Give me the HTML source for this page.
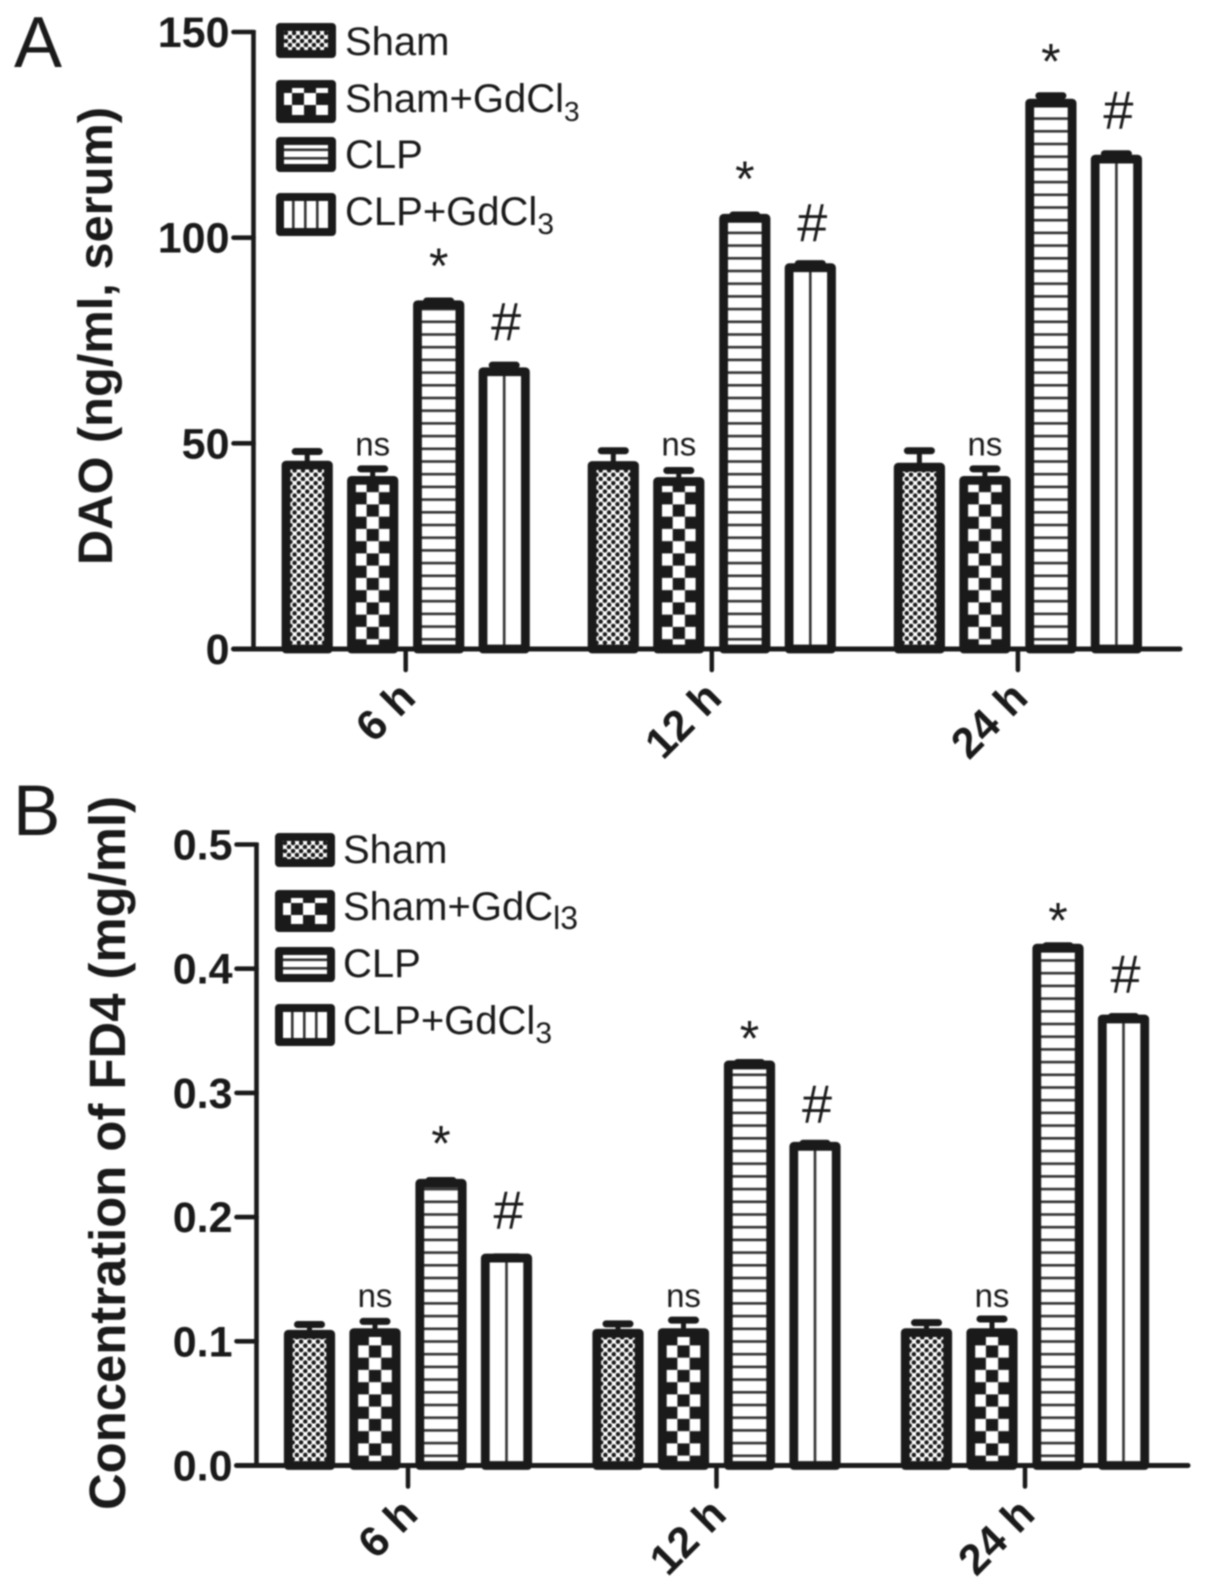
<!DOCTYPE html>
<html lang="en">
<head>
<meta charset="utf-8">
<title>DAO and FD4 bar charts</title>
<style>
html,body{margin:0;padding:0;background:#fff;}
svg{display:block;filter:blur(0.8px);}
text{font-family:"Liberation Sans",Arial,sans-serif;fill:#1a1a1a;}
</style>
</head>
<body>
<svg id="figure" xmlns="http://www.w3.org/2000/svg" width="1205" height="1593" viewBox="0 0 1205 1593">
<defs id="defs"></defs>
<rect x="0" y="0" width="1205" height="1593" fill="#ffffff"/>
<text x="14" y="67" font-size="72">A</text>
<text x="13" y="835" font-size="71">B</text>
<text transform="translate(112,565) rotate(-90)" font-size="48" font-weight="bold" textLength="458" lengthAdjust="spacingAndGlyphs">DAO (ng/ml, serum)</text>
<text transform="translate(125,1510) rotate(-90)" font-size="51" font-weight="bold" textLength="714" lengthAdjust="spacingAndGlyphs">Concentration of FD4 (mg/ml)</text>
<g font-size="40">
<text x="345" y="55">Sham</text>
<text x="345" y="112">Sham+GdCl<tspan dy="9" font-size="28">3</tspan></text>
<text x="345" y="168">CLP</text>
<text x="345" y="225">CLP+GdCl<tspan dy="9" font-size="30">3</tspan></text>
</g>
<g font-size="40">
<text x="343" y="863">Sham</text>
<text x="343" y="920">Sham+GdC<tspan dy="9" font-size="32">l3</tspan></text>
<text x="343" y="977">CLP</text>
<text x="343" y="1034">CLP+GdCl<tspan dy="9" font-size="30">3</tspan></text>
</g>
</svg>
<script>
// Shared categories
const categories = ['6 h', '12 h', '24 h'];
const seriesKeys = ['sham', 'sham-gdcl3', 'clp', 'clp-gdcl3'];

// Panel A: DAO (ng/ml, serum)
const aTicks = [0, 50, 100, 150];
const aTickLabels = ['0', '50', '100', '150'];
const aSham = [44.7, 44.6, 44.2];
const aShamUpper = [48, 48.2, 48.2];
const aShamGd = [41, 40.7, 41];
const aShamGdUpper = [43.8, 43.4, 43.8];
const aClp = [83.7, 104.7, 132.7];
const aClpUpper = [84.6, 105.5, 134.5];
const aClpGd = [67.4, 92.7, 119.1];
const aClpGdUpper = [69, 93.7, 120.4];
const aStar = [96, 117.2, 145.7];
const aHash = [79.7, 103.8, 131.1];
const aNs = [50, 50, 50];

// Panel B: Concentration of FD4 (mg/ml)
const bTicks = [0, 0.1, 0.2, 0.3, 0.4, 0.5];
const bTickLabels = ['0.0', '0.1', '0.2', '0.3', '0.4', '0.5'];
const bSham = [0.1057, 0.1065, 0.107];
const bShamUpper = [0.1135, 0.1140, 0.115];
const bShamGd = [0.107, 0.107, 0.107];
const bShamGdUpper = [0.116, 0.117, 0.118];
const bClp = [0.2272, 0.3225, 0.4165];
const bClpUpper = [0.2295, 0.3245, 0.4185];
const bClpGd = [0.167, 0.257, 0.3595];
const bClpGdUpper = [0.168, 0.2595, 0.3615];
const bStar = [0.2689, 0.3535, 0.4485];
const bHash = [0.206, 0.2915, 0.396];
const bNs = [0.1372, 0.1372, 0.1372];

const NS = 'http://www.w3.org/2000/svg';
const svg = document.getElementById('figure');
const defs = document.getElementById('defs');
const INK = '#1a1a1a';
let patternCount = 0;

function make(tag, attrs, parent) {
  const node = document.createElementNS(NS, tag);
  for (const k in attrs) node.setAttribute(k, attrs[k]);
  (parent || svg).appendChild(node);
  return node;
}

function makePattern(type, ox, oy, pitch) {
  const id = 'pat' + (patternCount++);
  let w = pitch, h = pitch;
  const p = make('pattern', {id: id, patternUnits: 'userSpaceOnUse', width: w, height: h,
    patternTransform: 'translate(' + ox + ',' + oy + ')'}, defs);
  make('rect', {x: 0, y: 0, width: w, height: h, fill: '#fff'}, p);
  if (type === 'sham') {
    make('circle', {cx: pitch / 4, cy: pitch / 4, r: 2.3, fill: INK}, p);
    make('circle', {cx: 3 * pitch / 4, cy: 3 * pitch / 4, r: 2.3, fill: INK}, p);
  } else if (type === 'sham-gdcl3') {
    make('rect', {x: 0, y: 0, width: pitch / 2, height: pitch / 2, fill: INK}, p);
    make('rect', {x: pitch / 2, y: pitch / 2, width: pitch / 2, height: pitch / 2, fill: INK}, p);
  } else if (type === 'clp') {
    make('rect', {x: 0, y: 0, width: pitch, height: 2.6, fill: '#333'}, p);
  } else {
    make('rect', {x: 0, y: 0, width: 2.6, height: pitch, fill: '#333'}, p);
  }
  return id;
}

function patternFor(type, cx, axisY) {
  if (type === 'sham') return makePattern(type, cx - 2.1, axisY, 8.4);
  if (type === 'sham-gdcl3') return makePattern(type, cx - 6.1, axisY - 22.1, 24.5);
  if (type === 'clp') return makePattern(type, cx, axisY - 11, 12.7);
  return makePattern(type, cx - 1.3, axisY, 60);
}

function drawPanel(cfg) {
  const yOf = function (v) { return cfg.axisY - (v - cfg.yMin) / (cfg.yMax - cfg.yMin) * (cfg.axisY - cfg.topY); };
  const group = make('g', {});
  
  

  const offsets = [-98.5, -33, 33, 98.5];
  const halfBar = 21.2;

  cfg.categories.forEach(function (cat, ci) {
    const tickX = cfg.tickXs(ci);
    cfg.series.forEach(function (s, si) {
      const cx = tickX + offsets[si];
      const y = yOf(s.values[ci]);
      const yUp = yOf(s.upper[ci]);

      const stem = make('line', {x1: cx, x2: cx, y1: y, y2: yUp, stroke: INK, 'stroke-width': 5}, group);
      
      

      const cap = make('line', {x1: cx - 12, x2: cx + 12, y1: yUp, y2: yUp, stroke: INK, 'stroke-width': 7, 'stroke-linecap': 'round'}, group);
      
      

      const pid = patternFor(s.key, cx, cfg.axisY);
      const bar = make('rect', {x: cx - halfBar, y: y, width: halfBar * 2, height: cfg.axisY - y,
        fill: 'url(#' + pid + ')', stroke: INK, 'stroke-width': 8.8, 'stroke-linejoin': 'round'}, group);
      
      
    });

    const ns = make('text', {x: tickX - 33, y: yOf(cfg.ns[ci]) + 12, 'font-size': 33, 'text-anchor': 'middle'}, group);
    ns.textContent = 'ns';
    
    

    const star = make('text', {x: tickX + 33, y: yOf(cfg.star[ci]) + 29, 'font-size': 50, 'text-anchor': 'middle'}, group);
    star.textContent = '*';
    
    

    const hash = make('text', {x: tickX + 100.5, y: yOf(cfg.hash[ci]) + 19, 'font-size': 54, 'text-anchor': 'middle'}, group);
    hash.textContent = '#';
    
    

    const tick = make('line', {x1: tickX, x2: tickX, y1: cfg.axisY, y2: cfg.axisY + 21, stroke: INK, 'stroke-width': 4.5, 'stroke-linecap': 'round'}, group);
    
    

    const lx = tickX + 12;
    const ly = cfg.axisY + 51;
    const label = make('text', {x: lx, y: ly, 'font-size': cfg.xFont, 'font-weight': 'bold', 'text-anchor': 'end',
      transform: 'rotate(-45 ' + lx + ' ' + ly + ')'}, group);
    label.textContent = cat;
    
    
  });

  const yAxis = make('line', {x1: cfg.axisX, x2: cfg.axisX, y1: cfg.topY - 2, y2: cfg.axisY, stroke: INK, 'stroke-width': 4.6}, group);
  
  

  const xAxis = make('line', {x1: cfg.axisX - 20, x2: cfg.xEnd, y1: cfg.axisY, y2: cfg.axisY, stroke: INK, 'stroke-width': 5, 'stroke-linecap': 'round'}, group);
  
  

  cfg.ticks.forEach(function (t, i) {
    const y = yOf(t);
    const tk = make('line', {x1: cfg.axisX - 20, x2: cfg.axisX, y1: y, y2: y, stroke: INK, 'stroke-width': 4.6, 'stroke-linecap': 'round'}, group);
    
    

    const lb = make('text', {x: cfg.axisX - 24, y: y + 15, 'font-size': 43, 'font-weight': 'bold', 'text-anchor': 'end'}, group);
    lb.textContent = cfg.tickLabels[i];
    
    
  });

  cfg.legendBoxes.forEach(function (box, i) {
    const key = seriesKeys[i];
    const sx = cfg.legendX;
    const sy = box[0];
    const sh = box[1];
    let pid;
    if (key === 'sham') pid = makePattern(key, sx, sy, 8);
    else if (key === 'sham-gdcl3') pid = makePattern(key, sx + 4, sy + 1, 24);
    else if (key === 'clp') pid = makePattern(key, sx, sy + 3, 8.5);
    else pid = makePattern(key, sx + 4, sy, 12);
    const sw = make('rect', {x: sx + 4, y: sy + 4, width: 52, height: sh - 8, fill: 'url(#' + pid + ')',
      stroke: INK, 'stroke-width': 8, 'stroke-linejoin': 'round'}, group);
    
    
  });
}

drawPanel({
  name: 'panel-a',
  categories: categories,
  yMin: 0, yMax: 150, topY: 32, axisY: 649, axisX: 253.5, xEnd: 1180, xFont: 43,
  tickXs: function (i) { return 405.7 + i * 306.1; },
  ticks: aTicks, tickLabels: aTickLabels,
  series: [
    {key: seriesKeys[0], values: aSham, upper: aShamUpper},
    {key: seriesKeys[1], values: aShamGd, upper: aShamGdUpper},
    {key: seriesKeys[2], values: aClp, upper: aClpUpper},
    {key: seriesKeys[3], values: aClpGd, upper: aClpGdUpper}
  ],
  star: aStar, hash: aHash, ns: aNs,
  legendX: 276,
  legendBoxes: [[23, 35], [80, 43], [137, 35], [193, 43]]
});

drawPanel({
  name: 'panel-b',
  categories: categories,
  yMin: 0, yMax: 0.5, topY: 844.5, axisY: 1465.5, axisX: 256.5, xEnd: 1188, xFont: 43,
  tickXs: function (i) { return 408 + i * 308.5; },
  ticks: bTicks, tickLabels: bTickLabels,
  series: [
    {key: seriesKeys[0], values: bSham, upper: bShamUpper},
    {key: seriesKeys[1], values: bShamGd, upper: bShamGdUpper},
    {key: seriesKeys[2], values: bClp, upper: bClpUpper},
    {key: seriesKeys[3], values: bClpGd, upper: bClpGdUpper}
  ],
  star: bStar, hash: bHash, ns: bNs,
  legendX: 275,
  legendBoxes: [[833, 34], [890, 42], [947, 35], [1004, 42]]
});
</script>
</body>
</html>
